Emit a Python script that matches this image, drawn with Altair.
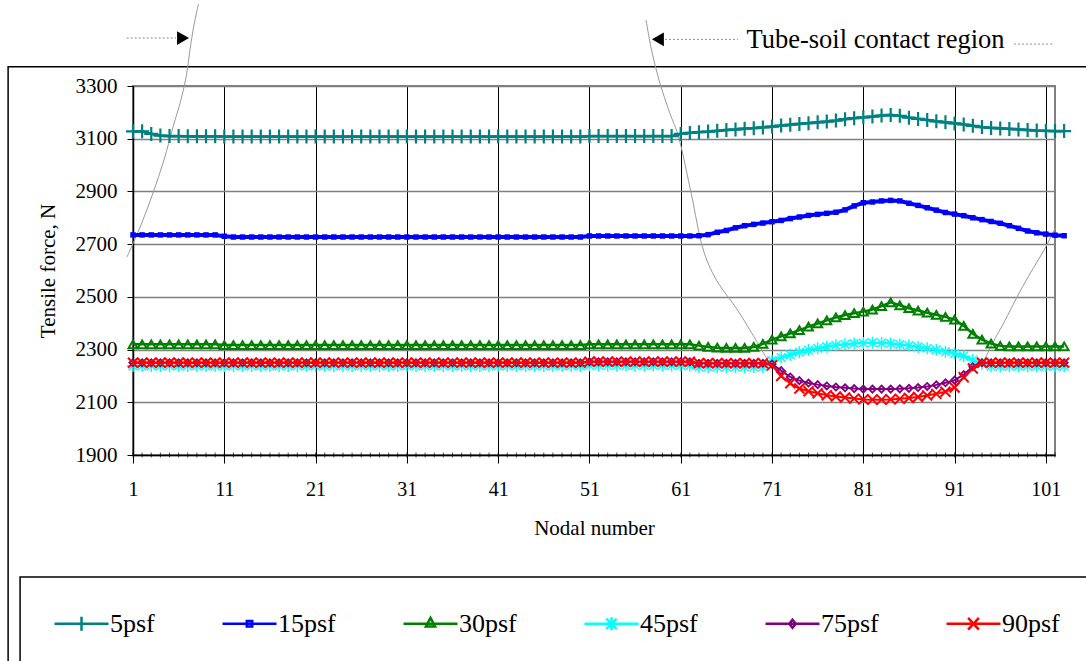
import altair as alt
import pandas as pd

# ---------------- data ----------------
NODES = list(range(1, 104))
SERIES = ["5psf", "15psf", "30psf", "45psf", "75psf", "90psf"]
COLORS = ["#008080", "#0000FF", "#008000", "#00FFFF", "#800080", "#FF0000"]

F5 = [3128, 3128, 3118, 3112, 3110, 3110, 3109, 3109, 3109, 3109,
      3108, 3108, 3108, 3108, 3108, 3108, 3108, 3108, 3108, 3108,
      3108, 3108, 3108, 3108, 3108, 3108, 3108, 3108, 3108, 3108,
      3108, 3108, 3108, 3108, 3108, 3108, 3108, 3108, 3108, 3108,
      3108, 3108, 3108, 3108, 3108, 3108, 3108, 3108, 3108, 3108,
      3110, 3110, 3110, 3110, 3110, 3110, 3110, 3110, 3110, 3110,
      3118, 3122, 3125, 3127, 3130, 3133, 3135, 3138, 3140, 3143,
      3146, 3150, 3153, 3156, 3159, 3162, 3165, 3169, 3174, 3178,
      3181, 3184, 3188, 3190, 3187, 3180, 3175, 3171, 3166, 3162,
      3158, 3154, 3149, 3144, 3141, 3139, 3137, 3135, 3133, 3131,
      3130, 3129, 3129]

F15 = [2735, 2735, 2735, 2735, 2735, 2735, 2735, 2735, 2735, 2735,
       2730, 2727, 2727, 2727, 2727, 2727, 2727, 2727, 2727, 2727,
       2727, 2727, 2727, 2727, 2727, 2727, 2727, 2727, 2727, 2727,
       2727, 2727, 2727, 2727, 2727, 2727, 2727, 2727, 2727, 2727,
       2727, 2727, 2727, 2727, 2727, 2727, 2727, 2727, 2727, 2727,
       2731, 2731, 2731, 2731, 2731, 2731, 2731, 2731, 2731, 2731,
       2731, 2731, 2732, 2736, 2745, 2752, 2762, 2770, 2775, 2780,
       2785, 2790, 2797, 2803, 2809, 2813, 2817, 2821, 2830, 2845,
       2857, 2860, 2864, 2866, 2864, 2855, 2847, 2838, 2829, 2820,
       2814, 2808, 2800, 2793, 2786, 2779, 2770, 2760, 2750, 2743,
       2738, 2734, 2732]

F30 = [2320, 2320, 2320, 2320, 2320, 2320, 2320, 2320, 2320, 2320,
       2317, 2317, 2317, 2317, 2317, 2317, 2317, 2317, 2317, 2317,
       2317, 2317, 2317, 2317, 2317, 2317, 2317, 2317, 2317, 2317,
       2317, 2317, 2317, 2317, 2317, 2317, 2317, 2317, 2317, 2317,
       2317, 2317, 2317, 2317, 2317, 2317, 2317, 2317, 2317, 2317,
       2320, 2320, 2320, 2320, 2320, 2320, 2320, 2320, 2320, 2320,
       2320, 2320, 2315, 2310, 2307, 2306, 2306, 2306, 2310, 2322,
       2338, 2350, 2361, 2374, 2387, 2399, 2411, 2422, 2431, 2438,
       2444, 2452, 2465, 2479, 2468, 2457, 2448, 2440, 2432, 2424,
       2414, 2390, 2360, 2338, 2323, 2314, 2312, 2312, 2312, 2312,
       2312, 2312, 2312]

F45 = [2238, 2238, 2238, 2238, 2238, 2238, 2238, 2238, 2238, 2238,
       2238, 2238, 2238, 2238, 2238, 2238, 2238, 2238, 2238, 2238,
       2238, 2238, 2238, 2238, 2238, 2238, 2238, 2238, 2238, 2238,
       2238, 2238, 2238, 2238, 2238, 2238, 2238, 2238, 2238, 2238,
       2238, 2238, 2238, 2238, 2238, 2238, 2238, 2238, 2238, 2238,
       2240, 2240, 2240, 2240, 2240, 2240, 2240, 2240, 2240, 2240,
       2240, 2240, 2234, 2234, 2234, 2234, 2234, 2234, 2234, 2234,
       2258, 2270, 2280, 2290, 2298, 2305, 2311, 2316, 2320, 2323,
       2325, 2326, 2325, 2323, 2319, 2315, 2310, 2305, 2299, 2292,
       2285, 2275, 2260, 2246, 2237, 2237, 2237, 2237, 2237, 2237,
       2237, 2237, 2237]

F75 = [2250, 2250, 2250, 2250, 2250, 2250, 2250, 2250, 2250, 2250,
       2250, 2250, 2250, 2250, 2250, 2250, 2250, 2250, 2250, 2250,
       2250, 2250, 2250, 2250, 2250, 2250, 2250, 2250, 2250, 2250,
       2250, 2250, 2250, 2250, 2250, 2250, 2250, 2250, 2250, 2250,
       2250, 2250, 2250, 2250, 2250, 2250, 2250, 2250, 2250, 2250,
       2254, 2254, 2254, 2254, 2254, 2254, 2254, 2254, 2254, 2254,
       2254, 2254, 2248, 2248, 2248, 2248, 2248, 2248, 2248, 2248,
       2245, 2220, 2196, 2182, 2173, 2167, 2162, 2158, 2155, 2152,
       2150, 2150, 2150, 2150, 2151, 2153, 2156, 2160, 2166, 2174,
       2184, 2205, 2235, 2250, 2250, 2250, 2250, 2250, 2250, 2250,
       2250, 2250, 2250]

F90 = [2250, 2250, 2250, 2250, 2250, 2250, 2250, 2250, 2250, 2250,
       2250, 2250, 2250, 2250, 2250, 2250, 2250, 2250, 2250, 2250,
       2250, 2250, 2250, 2250, 2250, 2250, 2250, 2250, 2250, 2250,
       2250, 2250, 2250, 2250, 2250, 2250, 2250, 2250, 2250, 2250,
       2250, 2250, 2250, 2250, 2250, 2250, 2250, 2250, 2250, 2250,
       2254, 2254, 2254, 2254, 2254, 2254, 2254, 2254, 2254, 2254,
       2254, 2254, 2248, 2248, 2248, 2248, 2248, 2248, 2248, 2248,
       2240, 2200, 2172, 2152, 2142, 2134, 2127, 2122, 2118, 2114,
       2111, 2110, 2110, 2111, 2113, 2116, 2120, 2126, 2132, 2140,
       2156, 2195, 2228, 2250, 2250, 2250, 2250, 2250, 2250, 2250,
       2250, 2250, 2250]

VALUES = [F5, F15, F30, F45, F75, F90]

X_TICKS = [1, 11, 21, 31, 41, 51, 61, 71, 81, 91, 101]
Y_TICKS = [1900, 2100, 2300, 2500, 2700, 2900, 3100, 3300]
X_DOMAIN = [1, 102]
Y_DOMAIN = [1900, 3300]
MINOR_TICKS = list(range(1, 103))

# annotation (in data units: node number / force)
ANNOT_TEXT = "Tube-soil contact region"
ANNOT_X = [68.2]
ANNOT_Y = [3443]
DASH_X1 = [0.31, 59.27, 97.53]
DASH_X2 = [5.71, 67.26, 101.9]
DASH_Y = [3482, 3477, 3459]
HEAD_R_X, HEAD_R_Y = [6.48], [3482]
HEAD_L_X, HEAD_L_Y = [58.5], [3477]
CURVE_ID = ["a"] * 10 + ["b"] * 10 + ["c"] * 7
CURVE_X = [8.17, 7.68, 7.24, 6.86, 6.25, 5.38, 4.39, 3.19, 1.88, 0.34,
           57.20, 57.80, 58.68, 59.77, 60.86, 62.18, 63.38, 64.91, 67.43, 70.39,
           102.02, 100.81, 99.50, 98.08, 96.44, 95.34, 94.25]
CURVE_Y = [3611, 3531, 3437, 3342, 3247, 3144, 3019, 2894, 2773, 2651,
           3550, 3437, 3315, 3201, 3095, 2887, 2689, 2564, 2439, 2268,
           2761, 2678, 2602, 2515, 2405, 2336, 2260]
FRAME_X1 = [-12.68, -11.37]
FRAME_X2 = [130, 130]
FRAME_Y1 = [3373, 1437]
FRAME_Y2 = [900, 900]

# ---------------- styles ----------------
FONT = "Liberation Serif"
PLUS = "M-1,0H1M0,-1V1"
STAR = "M-1,0H1M0,-1V1M-0.72,-0.72L0.72,0.72M-0.72,0.72L0.72,-0.72"
XMARK = "M-1,-1L1,1M-1,1L1,-1"
MARKERS = [
    dict(shape=PLUS, size=196, filled=False, strokeWidth=2.2),
    dict(shape="square", size=30, filled=True),
    dict(shape="triangle-up", size=80, filled=False, strokeWidth=2),
    dict(shape=STAR, size=144, filled=False, strokeWidth=1.5),
    dict(shape="diamond", size=50, filled=False, strokeWidth=1.8),
    dict(shape=XMARK, size=100, filled=False, strokeWidth=2),
]
LINE_W = [2.8, 4, 2.5, 2, 2, 2]
LEGEND_PATHS = [
    "M-1,0H1M0,-0.26V0.26",
    "M-1,0H1M-0.1,-0.1H0.1V0.1H-0.1Z",
    "M-1,0H1M0,-0.22L0.17,0.1L-0.17,0.1Z",
    "M-1,0H1M0,-0.24V0.24M-0.19,-0.19L0.19,0.19M-0.19,0.19L0.19,-0.19",
    "M-1,0H1M0,-0.15L0.12,0L0,0.15L-0.12,0Z",
    "M-1,0H1M-0.2,-0.22L0.2,0.22M-0.2,0.22L0.2,-0.22",
]

xs = alt.Scale(domain=X_DOMAIN, nice=False, zero=False)
ys = alt.Scale(domain=Y_DOMAIN, nice=False, zero=False)

x_axis = alt.Axis(values=X_TICKS, format="d", grid=True, gridColor="black", gridWidth=1,
                  domainColor="black", domainWidth=1.5, tickColor="black", tickSize=8,
                  labelFont=FONT, labelFontSize=20, labelColor="black", labelPadding=16,
                  labelFlush=False, labelOverlap=False,
                  title="Nodal number", titleFont=FONT, titleFontSize=21,
                  titleFontWeight="normal", titleColor="black",
                  titleBaseline="alphabetic", titleY=79)
y_axis = alt.Axis(values=Y_TICKS, format="d", grid=True, gridColor="#808080", gridWidth=1.6,
                  domainColor="black", domainWidth=1.5, tickColor="black", tickSize=6,
                  labelFont=FONT, labelFontSize=21, labelColor="black", labelPadding=10,
                  labelFlush=False, labelOverlap=False,
                  title="Tensile force, N", titleFont=FONT, titleFontSize=21,
                  titleFontWeight="normal", titleColor="black",
                  titleBaseline="alphabetic", titleX=-79, titleAngle=270)


def X(field):
    return alt.X(field, type="quantitative", scale=xs, axis=x_axis)


def Y(field):
    return alt.Y(field, type="quantitative", scale=ys, axis=y_axis)


layers = []

# outer frame and legend box
frames = pd.DataFrame({"x1": FRAME_X1, "x2": FRAME_X2, "y1": FRAME_Y1, "y2": FRAME_Y2})
layers.append(alt.Chart(frames).mark_rect(fillOpacity=0, stroke="black", strokeWidth=1.5).encode(
    x=X("x1"), x2="x2:Q", y=Y("y1"), y2="y2:Q"))

# minor ticks on the x axis
ticks = pd.DataFrame({"node": MINOR_TICKS})
layers.append(alt.Chart(ticks).mark_tick(orient="vertical", size=5, thickness=1, color="black").encode(
    x=X("node"),
    y=alt.Y(datum=Y_DOMAIN[0], type="quantitative", scale=ys, axis=y_axis)))

# thin gray callout curves
curves = pd.DataFrame({"cid": CURVE_ID, "idx": list(range(len(CURVE_X))), "x": CURVE_X, "y": CURVE_Y})
layers.append(alt.Chart(curves).mark_line(color="#9a9a9a", strokeWidth=1, interpolate="cardinal").encode(
    x=X("x"), y=Y("y"), detail="cid:N", order="idx:Q"))

# data series
for name, vals, col, mk, lw in zip(SERIES, VALUES, COLORS, MARKERS, LINE_W):
    d = pd.DataFrame({"node": NODES, "force": vals})
    layers.append(alt.Chart(d).mark_line(color=col, strokeWidth=lw).encode(x=X("node"), y=Y("force")))
    layers.append(alt.Chart(d).mark_point(color=col, opacity=1, **mk).encode(x=X("node"), y=Y("force")))

# annotation: dotted leader lines, arrowheads, text
dash = pd.DataFrame({"x1": DASH_X1, "x2": DASH_X2, "y": DASH_Y})
layers.append(alt.Chart(dash).mark_rule(color="#8c8c8c", strokeWidth=1, strokeDash=[2, 2]).encode(
    x=X("x1"), x2="x2:Q", y=Y("y")))
hr = pd.DataFrame({"x": HEAD_R_X, "y": HEAD_R_Y})
layers.append(alt.Chart(hr).mark_point(shape="triangle-right", size=190, filled=True, color="black",
                                       opacity=1).encode(x=X("x"), y=Y("y")))
hl = pd.DataFrame({"x": HEAD_L_X, "y": HEAD_L_Y})
layers.append(alt.Chart(hl).mark_point(shape="triangle-left", size=190, filled=True, color="black",
                                       opacity=1).encode(x=X("x"), y=Y("y")))
txt = pd.DataFrame({"x": ANNOT_X, "y": ANNOT_Y, "t": [ANNOT_TEXT]})
layers.append(alt.Chart(txt).mark_text(font=FONT, fontSize=26.5, align="left", baseline="alphabetic",
                                      color="black").encode(x=X("x"), y=Y("y"), text="t:N"))

# legend carrier (invisible marks, legend drawn from scales)
leg = alt.Legend(orient="none", legendX=-80, legendY=509, direction="horizontal", columns=6,
                 title=None, symbolSize=2916, symbolStrokeWidth=2.5, symbolOpacity=1,
                 labelFont=FONT, labelFontSize=26, labelColor="black", labelOffset=0,
                 columnPadding=62, padding=0, labelLimit=0)
legdf = pd.DataFrame({"series": SERIES})
layers.append(alt.Chart(legdf).mark_point(opacity=0, filled=False).encode(
    color=alt.Color("series:N", scale=alt.Scale(domain=SERIES, range=COLORS), legend=leg),
    shape=alt.Shape("series:N", scale=alt.Scale(domain=SERIES, range=LEGEND_PATHS), legend=leg)))

chart = alt.layer(*layers).properties(
    width=922, height=369,
    padding={"left": 133, "top": 86, "right": 31, "bottom": 206},
    autosize=alt.AutoSizeParams(type="none"),
    background="white",
).configure(
    font=FONT, style={"guide-label": {"font": FONT}, "guide-title": {"font": FONT}}
).configure_view(stroke="#808080", strokeWidth=2).configure_legend(
    labelFont=FONT, labelFontSize=26, labelColor="black", columnPadding=62, labelOffset=0
)

chart.save("out.html", embed_options={"renderer": "svg", "actions": False})
